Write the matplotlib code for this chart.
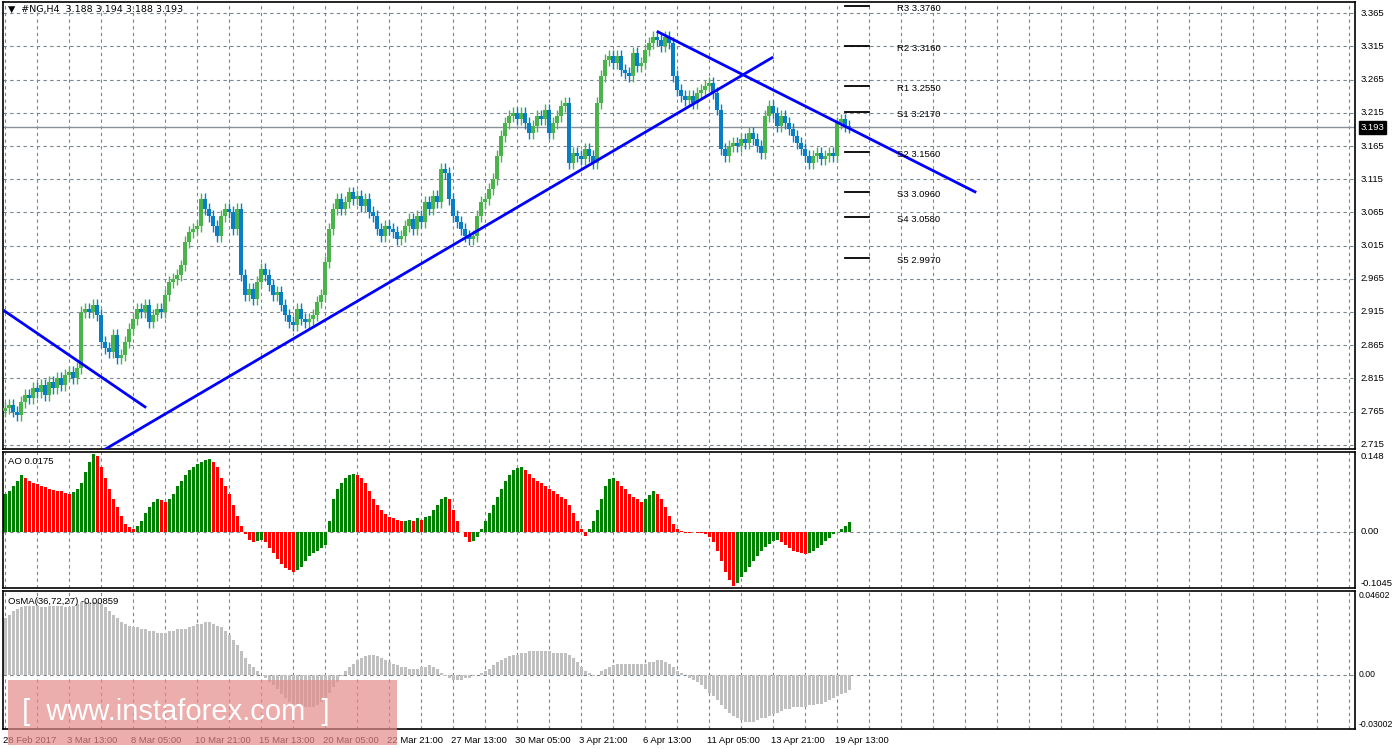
import matplotlib.pyplot as plt
from matplotlib.patches import Rectangle

# closes per H4 bar
closes = [
    2.770, 2.775, 2.765, 2.760, 2.780, 2.790, 2.785, 2.800, 2.795, 2.805,
    2.790, 2.810, 2.800, 2.815, 2.805, 2.820, 2.825, 2.815, 2.830, 2.915,
    2.920, 2.915, 2.925, 2.910, 2.870, 2.860, 2.855, 2.880, 2.845, 2.850,
    2.870, 2.890, 2.905, 2.920, 2.915, 2.925, 2.900, 2.910, 2.920, 2.915,
    2.940, 2.960, 2.965, 2.970, 2.985, 3.020, 3.035, 3.040, 3.045, 3.085,
    3.070, 3.060, 3.045, 3.030, 3.060, 3.070, 3.065, 3.040, 3.070, 2.970,
    2.940, 2.950, 2.935, 2.960, 2.980, 2.970, 2.955, 2.940, 2.945, 2.925,
    2.910, 2.900, 2.895, 2.920, 2.905, 2.900, 2.905, 2.910, 2.930, 2.940,
    2.990, 3.040, 3.070, 3.085, 3.070, 3.080, 3.095, 3.085, 3.090, 3.075,
    3.085, 3.065, 3.060, 3.040, 3.030, 3.045, 3.040, 3.035, 3.025, 3.030,
    3.045, 3.055, 3.040, 3.060, 3.050, 3.080, 3.070, 3.090, 3.080, 3.130,
    3.125, 3.085, 3.060, 3.050, 3.040, 3.030, 3.025, 3.030, 3.060, 3.080,
    3.085, 3.100, 3.115, 3.150, 3.180, 3.200, 3.210, 3.215, 3.205, 3.215,
    3.200, 3.185, 3.195, 3.210, 3.205, 3.220, 3.185, 3.200, 3.210, 3.225,
    3.230, 3.140, 3.155, 3.150, 3.145, 3.160, 3.150, 3.140, 3.230, 3.270,
    3.295, 3.300, 3.290, 3.300, 3.280, 3.275, 3.270, 3.305, 3.285, 3.290,
    3.310, 3.320, 3.330, 3.325, 3.315, 3.330, 3.320, 3.270, 3.250, 3.240,
    3.235, 3.240, 3.230, 3.245, 3.250, 3.255, 3.260, 3.245, 3.220, 3.160,
    3.150, 3.165, 3.170, 3.165, 3.175, 3.170, 3.185, 3.175, 3.165, 3.155,
    3.210, 3.225, 3.215, 3.195, 3.210, 3.200, 3.190, 3.180, 3.170, 3.160,
    3.150, 3.140, 3.150, 3.155, 3.145, 3.150, 3.155, 3.150, 3.200, 3.205,
    3.195, 3.193,
]

ao = [
    0.070, 0.075, 0.085, 0.095, 0.105, 0.100, 0.095, 0.090, 0.088, 0.085,
    0.083, 0.080, 0.078, 0.076, 0.075, 0.072, 0.070, 0.074, 0.080, 0.090,
    0.110, 0.130, 0.145, 0.140, 0.120, 0.100, 0.080, 0.060, 0.045, 0.030,
    0.015, 0.008, 0.005, 0.010, 0.020, 0.035, 0.045, 0.055, 0.060, 0.058,
    0.055, 0.060, 0.070, 0.085, 0.095, 0.105, 0.115, 0.120, 0.125, 0.130,
    0.133, 0.135, 0.130, 0.120, 0.100, 0.085, 0.070, 0.050, 0.030, 0.010,
    -0.005, -0.015, -0.020, -0.018, -0.015, -0.020, -0.030, -0.040, -0.050, -0.060,
    -0.068, -0.072, -0.075, -0.072, -0.065, -0.055, -0.045, -0.040, -0.035, -0.030,
    -0.025, 0.020, 0.060, 0.080, 0.090, 0.100, 0.105, 0.108, 0.105, 0.100,
    0.090, 0.075, 0.060, 0.050, 0.040, 0.032, 0.028, 0.025, 0.022, 0.020,
    0.020, 0.022, 0.020, 0.025, 0.022, 0.028, 0.030, 0.040, 0.050, 0.060,
    0.065, 0.060, 0.040, 0.020, 0.000, -0.010, -0.020, -0.018, -0.010, 0.005,
    0.020, 0.035, 0.050, 0.065, 0.080, 0.095, 0.105, 0.115, 0.118, 0.120,
    0.115, 0.108, 0.100, 0.095, 0.090, 0.085, 0.080, 0.075, 0.070, 0.065,
    0.060, 0.050, 0.035, 0.020, 0.005, -0.008, 0.005, 0.020, 0.040, 0.060,
    0.085, 0.098, 0.100, 0.095, 0.085, 0.080, 0.070, 0.065, 0.060, 0.055,
    0.060, 0.068, 0.075, 0.070, 0.060, 0.045, 0.030, 0.015, 0.005, 0.002,
    -0.002, -0.003, 0.000, -0.002, -0.003, -0.005, -0.010, -0.020, -0.035, -0.055,
    -0.075, -0.090, -0.100, -0.095, -0.085, -0.075, -0.065, -0.055, -0.045, -0.035,
    -0.028, -0.022, -0.018, -0.015, -0.020, -0.025, -0.030, -0.035, -0.038, -0.040,
    -0.042, -0.040, -0.036, -0.030, -0.024, -0.018, -0.012, -0.005, 0.000, 0.005,
    0.010, 0.0175,
]

osma = [
    .031, .033, .035, .036, .037, .038, .038, .038, .038, .037,
    .037, .038, .038, .038, .038, .037, .037, .038, .039, .040,
    .040, .040, .040, .040, .039, .037, .035, .033, .031, .029,
    .028, .027, .026, .026, .025, .025, .024, .024, .023, .023,
    .023, .024, .024, .025, .025, .025, .026, .027, .028, .028,
    .029, .029, .028, .027, .026, .024, .022, .019, .016, .013,
    .009, .006, .004, .002, .000, -.002, -.004, -.006, -.008, -.011,
    -.013, -.015, -.016, -.017, -.018, -.018, -.018, -.018, -.017, -.015,
    -.013, -.010, -.007, -.004, -.001, .002, .004, .006, .008, .009,
    .010, .011, .011, .010, .009, .008, .007, .006, .005, .004,
    .004, .003, .003, .003, .004, .004, .005, .004, .003, .001,
    -.001, -.002, -.003, -.003, -.003, -.002, -.002, -.001, .000, .001,
    .002, .003, .005, .007, .008, .009, .010, .011, .011, .012,
    .012, .013, .013, .013, .013, .013, .013, .012, .012, .012,
    .012, .011, .009, .007, .004, .002, .001, -.001, .000, .002,
    .003, .004, .005, .006, .006, .006, .006, .006, .006, .006,
    .006, .007, .007, .008, .008, .007, .006, .004, .002, .001,
    .000, -.002, -.003, -.004, -.006, -.008, -.010, -.012, -.014, -.017,
    -.019, -.021, -.023, -.024, -.025, -.026, -.026, -.026, -.025, -.024,
    -.024, -.023, -.022, -.021, -.020, -.019, -.019, -.018, -.018, -.018,
    -.018, -.017, -.017, -.016, -.016, -.015, -.014, -.013, -.012, -.011,
    -.0100, -.00859,
]

date_labels = ['28 Feb 2017', '3 Mar 13:00', '8 Mar 05:00', '10 Mar 21:00',
               '15 Mar 13:00', '20 Mar 05:00', '22 Mar 21:00', '27 Mar 13:00',
               '30 Mar 05:00', '3 Apr 21:00', '6 Apr 13:00', '11 Apr 05:00',
               '13 Apr 21:00', '19 Apr 13:00']

pivot_names = ['R3', 'R2', 'R1', 'S1', 'S2', 'S3', 'S4', 'S5']
pivot_values = [3.376, 3.316, 3.255, 3.217, 3.156, 3.096, 3.058, 2.997]

# trend lines: (bar index, price) endpoints
trend_lines = [((-0.5, 2.918), (35.0, 2.772)),
               ((25.0, 2.708), (191.75, 3.298)),
               ((163.25, 3.337), (242.5, 3.096))]

last_price = 3.193
price_ticks = [3.365 - 0.05 * k for k in range(14)]

W, H = 1398, 749
fig = plt.figure(figsize=(W / 100, H / 100), dpi=100)
plt.rcParams['font.family'] = ['Liberation Sans', 'DejaVu Sans']
FS = 6.8

def fax(x0, y0, x1, y1):
    return fig.add_axes([x0 / W, 1 - y1 / H, (x1 - x0) / W, (y1 - y0) / H])

ax1 = fax(3, 2, 1355, 449)
ax2 = fax(3, 452, 1355, 588)
ax3 = fax(3, 591, 1355, 729)

xmin, xmax = -0.5, 337.5
grid_x = list(range(0, 338, 8))
for ax in (ax1, ax2, ax3):
    ax.set_xlim(xmin, xmax)
    ax.set_xticks([])
    ax.set_yticks([])
    for s in ax.spines.values():
        s.set_linewidth(1.2)
    for gx in grid_x:
        ax.axvline(gx, color='#7a8590', lw=0.8, ls=(0, (3, 3)), zorder=0)

# main price pane
ax1.set_ylim(2.7085, 3.382)
for p in price_ticks:
    ax1.axhline(p, color='#7a8590', lw=0.8, ls=(0, (3, 3)), zorder=0)
    ax1.text(1.004, p, f'{p:.3f}', transform=ax1.get_yaxis_transform(),
             fontsize=FS, va='center', ha='left', clip_on=False)
ax1.axhline(last_price, color='#8a9099', lw=1, zorder=1)
ax1.text(1.004, last_price, f'{last_price:.3f}', transform=ax1.get_yaxis_transform(),
         fontsize=FS, va='center', ha='left', color='white', clip_on=False,
         bbox=dict(facecolor='black', edgecolor='black', pad=1.2))

prev = closes[0] - 0.004
for i, c in enumerate(closes):
    o = prev
    hi, lo = max(o, c) + 0.009, min(o, c) - 0.009
    col = '#4cb34c' if c >= o else '#0a7ec2'
    ax1.vlines(i, lo, hi, color=col, lw=1, zorder=2)
    ax1.add_patch(Rectangle((i - 0.38, min(o, c)), 0.76, max(abs(c - o), 0.0015),
                            facecolor=col, edgecolor=col, lw=0, zorder=3))
    prev = c

for (xa, ya), (xb, yb) in trend_lines:
    ax1.plot([xa, xb], [ya, yb], color='#0000ff', lw=2, zorder=4)

for name, v in zip(pivot_names, pivot_values):
    ax1.plot([210, 216], [v, v], color='black', lw=1.3, zorder=4)
    ax1.text(223, v - 0.004, f'{name} {v:.4f}', fontsize=FS, va='center', ha='left', zorder=5)

ax1.text(0.004, 0.993, '\u25bc  #NG,H4  3.188 3.194 3.188 3.193', transform=ax1.transAxes,
         fontsize=FS, va='top', ha='left', family=['DejaVu Sans'])

# AO pane
ax2.set_ylim(-0.1045, 0.148)
ax2.axhline(0, color='#7a8590', lw=0.8, ls=(0, (3, 3)), zorder=0)
ao_cols = ['#008000' if i == 0 or v >= ao[i - 1] else '#ff0000' for i, v in enumerate(ao)]
ax2.bar(range(len(ao)), ao, width=0.75, color=ao_cols, zorder=2)
for v, lab, va in [(0.148, '0.148', 'top'), (0, '0.00', 'center'), (-0.1045, '-0.1045', 'bottom')]:
    ax2.text(1.004, v, lab, transform=ax2.get_yaxis_transform(), fontsize=FS,
             va=va, ha='left', clip_on=False)
ax2.text(0.004, 0.96, 'AO 0.0175', transform=ax2.transAxes, fontsize=FS, va='top')

# OsMA pane
ax3.set_ylim(-0.03002, 0.04602)
ax3.axhline(0, color='#7a8590', lw=0.8, ls=(0, (3, 3)), zorder=0)
ax3.bar(range(len(osma)), osma, width=0.75, color='#c0c0c0', zorder=2)
for v, lab, va in [(0.04602, '0.04602', 'top'), (0, '0.00', 'center'), (-0.03002, '-0.03002', 'bottom')]:
    ax3.text(1.003, v, lab, transform=ax3.get_yaxis_transform(), fontsize=6.2,
             va=va, ha='left', clip_on=False)
ax3.text(0.004, 0.96, 'OsMA(36,72,27) -0.00859', transform=ax3.transAxes, fontsize=FS, va='top')

for k, lab in enumerate(date_labels):
    ax3.text(16 * k - 0.5, -0.05, lab, transform=ax3.get_xaxis_transform(),
             fontsize=FS, va='top', ha='left', clip_on=False)

# watermark
fig.patches.append(Rectangle((8 / W, 1 - 745 / H), 389 / W, 65 / H, transform=fig.transFigure,
                             facecolor='#e58a8a', alpha=0.7, edgecolor='none', zorder=10))
fig.text(22 / W, 1 - 712 / H, '[  www.instaforex.com  ]', fontsize=21, color='white',
         va='center', ha='left', zorder=11)

fig.savefig('out.png', dpi=100)
